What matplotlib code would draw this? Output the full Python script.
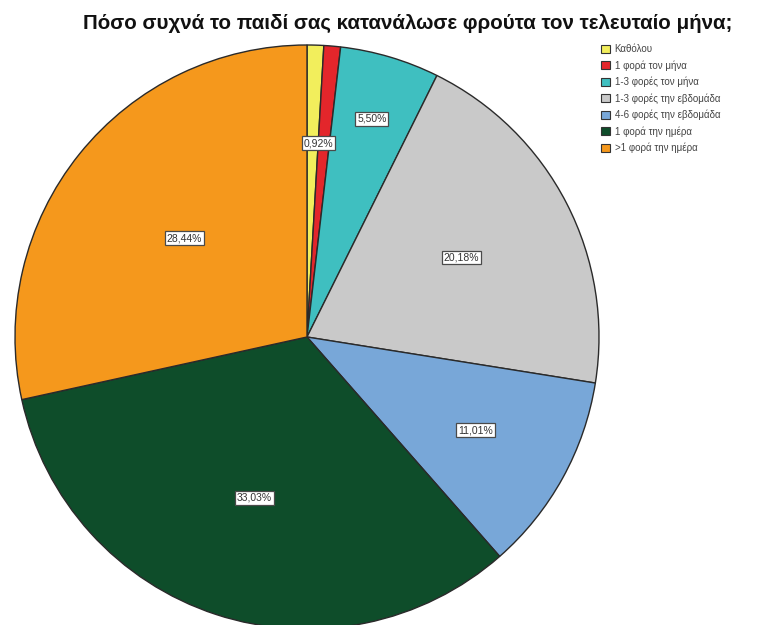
import numpy as np
import matplotlib
matplotlib.use("Agg")
import matplotlib.pyplot as plt

categories = ["Καθόλου", "1 φορά τον μήνα", "1-3 φορές τον μήνα",
              "1-3 φορές την εβδομάδα", "4-6 φορές την εβδομάδα",
              "1 φορά την ημέρα", ">1 φορά την ημέρα"]
values = [0.92, 0.92, 5.50, 20.18, 11.01, 33.03, 28.44]
colors = ["#f2ee5c", "#e3262b", "#3fbfc0", "#c9c9c9", "#78a7d8", "#0e4d2a", "#f5981c"]
# radial position of each percentage label (None = label shared with next slice)
label_radius = [None, 0.665, 0.78, 0.595, 0.66, 0.58, 0.54]

plt.rcParams["font.family"] = ["Liberation Sans", "DejaVu Sans"]

cx, cy, R = 307, 337, 292
W, H = 771, 625
fig = plt.figure(figsize=(W / 100, H / 100), dpi=100)
ax = fig.add_axes([(cx - R) / W, (H - cy - R) / H, 2 * R / W, 2 * R / H])
wedges, _ = ax.pie(values, colors=colors, startangle=90, counterclock=False,
                   radius=1.0, wedgeprops=dict(edgecolor="#2a2a2a", linewidth=1.0))
ax.set_xlim(-1, 1)
ax.set_ylim(-1, 1)
ax.set_aspect("equal")

for i, (w, v, r) in enumerate(zip(wedges, values, label_radius)):
    if r is None:
        continue
    if i > 0 and label_radius[i - 1] is None:
        # shared label for the two thin slices: centred over both
        t1, t2 = wedges[i - 1].theta2, w.theta1
        ang = np.deg2rad((t1 + t2) / 2)
    else:
        ang = np.deg2rad((w.theta1 + w.theta2) / 2)
    ax.text(r * np.cos(ang), r * np.sin(ang), f"{v:.2f}%".replace(".", ","),
            ha="center", va="center", fontsize=7.5, color="#333333",
            bbox=dict(boxstyle="square,pad=0.18", facecolor="white",
                      edgecolor="#4a4a4a", linewidth=0.9))

fig.text(408 / W, 1 - 23 / H, "Πόσο συχνά το παιδί σας κατανάλωσε φρούτα τον τελευταίο μήνα;",
         ha="center", va="center", fontsize=14.8, fontweight="bold", color="#111111")

handles = [plt.Rectangle((0, 0), 1, 1, facecolor=c, edgecolor="#333333", linewidth=0.8)
           for c in colors]
fig.legend(handles, categories, loc="upper left", bbox_to_anchor=(601 / W, 1 - 44 / H),
           frameon=False, fontsize=7, handlelength=0.9, handleheight=0.9,
           handletextpad=0.5, labelspacing=0.62, borderaxespad=0, borderpad=0,
           labelcolor="#444444")

fig.savefig("out.png", dpi=100, facecolor="white")
